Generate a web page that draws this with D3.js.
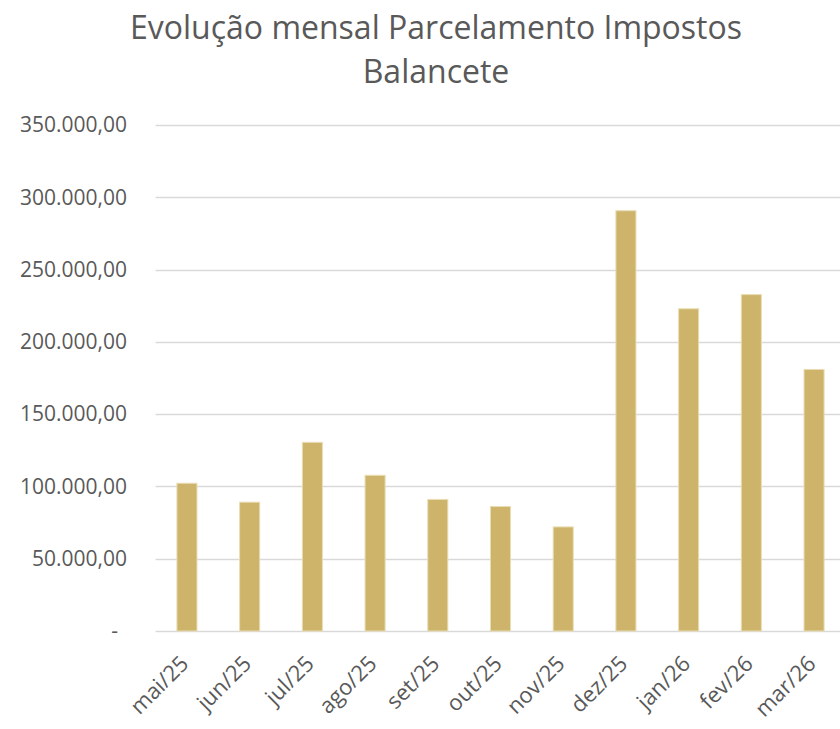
<!DOCTYPE html>
<html>
<head>
<meta charset="utf-8">
<script src="https://cdn.jsdelivr.net/npm/d3@7"></script>
<style>
  body { margin: 0; background: #fff; }
  svg { display: block; font-family: "Open Sans", "Noto Sans", sans-serif; }
</style>
</head>
<body>
<div id="chart"></div>
<script>
// values
const months = ['mai/25', 'jun/25', 'jul/25', 'ago/25', 'set/25', 'out/25',
  'nov/25', 'dez/25', 'jan/26', 'fev/26', 'mar/26'];
const values = [102200, 89100, 130500, 107700, 91000, 86100,
  72000, 290700, 222900, 232700, 180900];
const yTicks = [0, 50000, 100000, 150000, 200000, 250000, 300000, 350000];
const titleLines = ['Evolução mensal Parcelamento Impostos', 'Balancete'];

const W = 840, H = 729;
const BAR = '#CEB46B';
const TEXT = '#595959';
const GRID = '#D9D9D9';

const svg = d3.select('#chart').append('svg')
  .attr('width', W)
  .attr('height', H);

// plot runs past the right edge like in the reference crop
const x = d3.scaleBand()
  .domain(months)
  .range([155.6, 845.4])
  .paddingInner(0.68)
  .paddingOuter(0.34);

const y = d3.scaleLinear()
  .domain([0, 350000])
  .range([631, 125]);

const fmt = v => v === 0 ? '-' :
  d3.format(',.2f')(v).replace(/,/g, '#').replace('.', ',').replace(/#/g, '.');

// grid
svg.append('g')
  .selectAll('line')
  .data(yTicks)
  .enter()
  .append('line')
  .attr('x1', 155.6)
  .attr('x2', W)
  .attr('y1', d => Math.round(y(d)) + 0.5)
  .attr('y2', d => Math.round(y(d)) + 0.5)
  .style('stroke', GRID)
  .style('stroke-width', '1.5px');

// y labels
svg.append('g')
  .selectAll('text')
  .data(yTicks)
  .enter()
  .append('text')
  .attr('x', d => d === 0 ? 118 : 127)
  .attr('y', d => y(d))
  .attr('dy', '0.35em')
  .attr('text-anchor', 'end')
  .style('font-size', '21px')
  .style('fill', TEXT)
  .text(fmt);

// bars
svg.append('g')
  .selectAll('rect')
  .data(values)
  .enter()
  .append('rect')
  .attr('x', (d, i) => x(months[i]))
  .attr('y', d => y(d))
  .attr('width', x.bandwidth())
  .attr('height', d => y(0) - y(d))
  .style('fill', BAR)
  .style('stroke', '#E9DDB4')
  .style('stroke-width', '1px');

// x labels, rotated
svg.append('g')
  .selectAll('text')
  .data(months)
  .enter()
  .append('text')
  .attr('transform', d => `translate(${x(d) + x.bandwidth() / 2 + 3},${665}) rotate(-45)`)
  .attr('text-anchor', 'end')
  .style('font-size', '22px')
  .style('fill', TEXT)
  .text(d => d);

// title
svg.append('g')
  .selectAll('text')
  .data(titleLines)
  .enter()
  .append('text')
  .attr('x', 436)
  .attr('y', (d, i) => 39 + i * 44)
  .attr('text-anchor', 'middle')
  .style('font-size', '32px')
  .style('fill', TEXT)
  .text(d => d);
</script>
</body>
</html>
